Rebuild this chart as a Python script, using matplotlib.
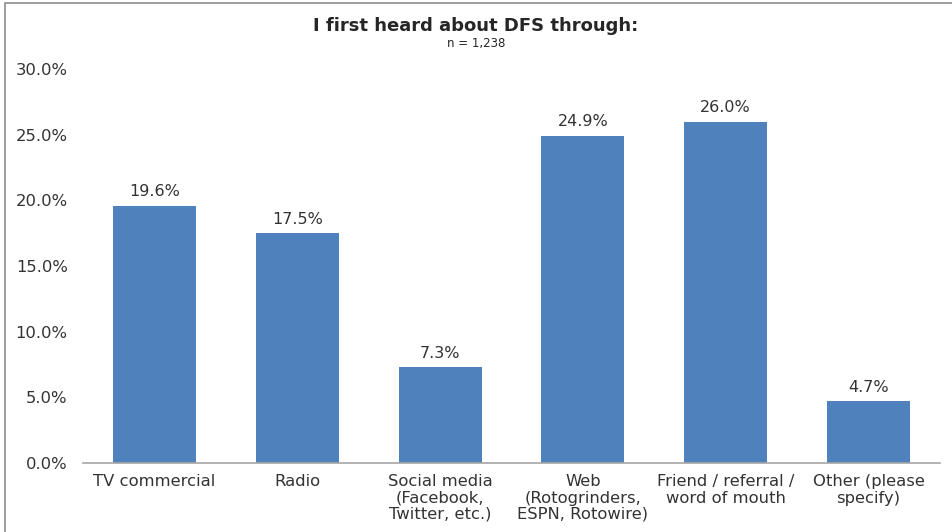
import matplotlib
matplotlib.use("Agg")
import matplotlib.pyplot as plt
from matplotlib.patches import Rectangle
from matplotlib.ticker import FuncFormatter

categories = ["TV commercial", "Radio", "Social media\n(Facebook,\nTwitter, etc.)",
              "Web\n(Rotogrinders,\nESPN, Rotowire)", "Friend / referral /\nword of mouth",
              "Other (please\nspecify)"]
values = [19.6, 17.5, 7.3, 24.9, 26.0, 4.7]
yticks = [0, 5, 10, 15, 20, 25, 30]

plt.rcParams['font.family'] = ['DejaVu Sans']

fig = plt.figure(figsize=(9.52, 5.32), dpi=100)
ax = fig.add_axes([83/952, 1-463/532, (940-83)/952, (463-69)/532])

x = list(range(len(categories)))
ax.bar(x, values, width=0.58, color="#4F81BD", zorder=2)
for xi, v in zip(x, values):
    ax.text(xi, v + 0.5, f"{v:.1f}%", ha="center", va="bottom", fontsize=11.5, color="#333333")

ax.set_xlim(-0.5, len(categories) - 0.5)
ax.set_ylim(0, 30)
ax.set_yticks(yticks)
ax.yaxis.set_major_formatter(FuncFormatter(lambda v, p: f"{v:.1f}%"))
ax.set_xticks(x)
ax.set_xticklabels(categories, fontsize=11.8, color="#333333", linespacing=1.12)
ax.tick_params(axis="y", length=0, labelsize=11.8, labelcolor="#333333", pad=11)
ax.tick_params(axis="x", length=0, pad=8)
for s in ["top", "right", "left"]:
    ax.spines[s].set_visible(False)
ax.spines["bottom"].set_color("#A6A6A6")
ax.spines["bottom"].set_linewidth(1.2)

fig.text(0.5, 1-26/532, "I first heard about DFS through:", ha="center", va="center",
         fontsize=13, fontweight="bold", color="#262626")
fig.text(0.5, 1-44/532, "n = 1,238", ha="center", va="center", fontsize=8.5, color="#262626")

fig.patches.append(Rectangle((5/952, -0.05), 1.2, 1-3/532+0.05, transform=fig.transFigure,
                             fill=False, edgecolor="#8C8C8C", linewidth=1.2))

fig.savefig("out.png", dpi=100)
